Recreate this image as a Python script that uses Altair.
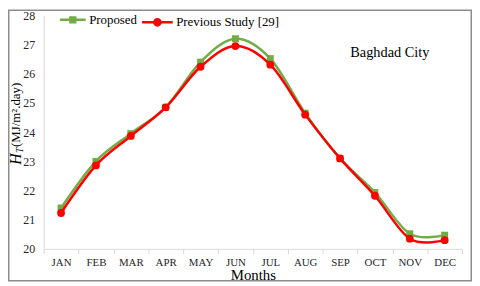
import altair as alt
import pandas as pd

months = ["JAN", "FEB", "MAR", "APR", "MAY", "JUN", "JUL", "AUG", "SEP", "OCT", "NOV", "DEC"]
proposed = [21.4, 23.0, 23.95, 24.85, 26.4, 27.2, 26.52, 24.65, 23.1, 21.93, 20.52, 20.47]
previous = [21.23, 22.86, 23.87, 24.85, 26.24, 26.95, 26.31, 24.6, 23.1, 21.82, 20.35, 20.3]
series_names = ["Proposed", "Previous Study [29]"]
series_colors = ["#70AD47", "#FF0000"]
y_ticks = [20, 21, 22, 23, 24, 25, 26, 27, 28]

df = pd.DataFrame({
    "month": months * 2,
    "value": proposed + previous,
    "series": [series_names[0]] * len(months) + [series_names[1]] * len(months),
})

W, H = 423, 236
PAD = {"left": 36, "top": 6, "right": 10, "bottom": 33}
SERIF = "Liberation Serif"

x_enc = alt.X(
    "month:N", sort=months,
    scale=alt.Scale(type="band", paddingInner=0, paddingOuter=0),
    axis=alt.Axis(title="Months", tickBand="extent", labelAngle=0, labelFont=SERIF,
                  labelFontSize=11, labelColor="#262626", labelPadding=3, tickSize=5,
                  tickColor="#d9d9d9", domainColor="#d9d9d9", titleFont=SERIF,
                  titleFontSize=15, titleFontWeight="normal", titleColor="#000000",
                  titlePadding=0, grid=False),
)
y_enc = alt.Y(
    "value:Q",
    scale=alt.Scale(domain=[20, 28], nice=False, zero=False),
    axis=alt.Axis(title=None, values=y_ticks, ticks=False, labelFont=SERIF, labelFontSize=12,
                  labelColor="#262626", labelPadding=9, domainColor="#d9d9d9", grid=False),
)

sym_paths = [
    "M-1,0H1M-0.19,-0.19H0.19V0.19H-0.19Z",
    "M-1,0H1M0.2,0A0.2,0.2,0,1,1,-0.2,0A0.2,0.2,0,1,1,0.2,0Z",
]
sym_sizes = [676, 961]
legend_x = [15, 98]
shapes = ["square", "circle"]
sizes = [49, 62]

layers = []
for i, name in enumerate(series_names):
    base = alt.Chart(df).transform_filter(alt.datum.series == name)
    line = base.mark_line(interpolate="cardinal", strokeWidth=2.5).encode(
        x=x_enc, y=y_enc,
        color=alt.Color(
            "series:N",
            scale=alt.Scale(domain=[name], range=[series_colors[i]]),
            legend=alt.Legend(
                title=None, orient="none", legendX=legend_x[i], legendY=-10,
                symbolType=sym_paths[i], symbolSize=sym_sizes[i],
                symbolFillColor=series_colors[i], symbolStrokeWidth=2.5,
                labelFont=SERIF, labelFontSize=13, labelColor="#000000",
                labelOffset=2, padding=0, labelLimit=300,
            ),
        ),
    )
    pts = base.mark_point(filled=True, shape=shapes[i], size=sizes[i], opacity=1,
                          color=series_colors[i]).encode(x=x_enc, y=y_enc)
    layers += [line, pts]

one = alt.Data(values=[{"t": 1}])
city = alt.Chart(one).mark_text(text="Baghdad City", font=SERIF, fontSize=14.5,
                                color="#000000", align="center", baseline="middle").encode(
    x=alt.value(350), y=alt.value(38))
h_t = alt.Chart(one).mark_text(text="H", font=SERIF, fontStyle="italic", fontSize=16,
                               color="#000000", angle=270, align="left", baseline="middle").encode(
    x=alt.value(-28), y=alt.value(151))
t_t = alt.Chart(one).mark_text(text="T", font=SERIF, fontStyle="italic", fontSize=10,
                               color="#000000", angle=270, align="left", baseline="middle").encode(
    x=alt.value(-24), y=alt.value(139))
u_t = alt.Chart(one).mark_text(text="(MJ/m².day)", font=SERIF, fontSize=13,
                               color="#000000", angle=270, align="left", baseline="middle").encode(
    x=alt.value(-28), y=alt.value(133))
frame = alt.Chart(one).mark_rect(fill="transparent", stroke="#8c8c8c", strokeWidth=1.5).encode(
    x=alt.value(-PAD["left"] + 0.75), x2=alt.value(W + PAD["right"] - 0.75),
    y=alt.value(-PAD["top"] + 0.75), y2=alt.value(H + PAD["bottom"] - 0.75))

chart = alt.layer(*layers, city, h_t, t_t, u_t, frame).resolve_scale(
    color="independent").resolve_legend(color="independent").properties(
    width=W, height=H, autosize=alt.AutoSizeParams(type="none"), padding=PAD,
    background="white").configure_view(strokeWidth=0).configure_legend(
    labelFont=SERIF, labelFontSize=13, labelColor="#000000")

chart.save("out.html", embed_options={"renderer": "svg", "actions": False})
